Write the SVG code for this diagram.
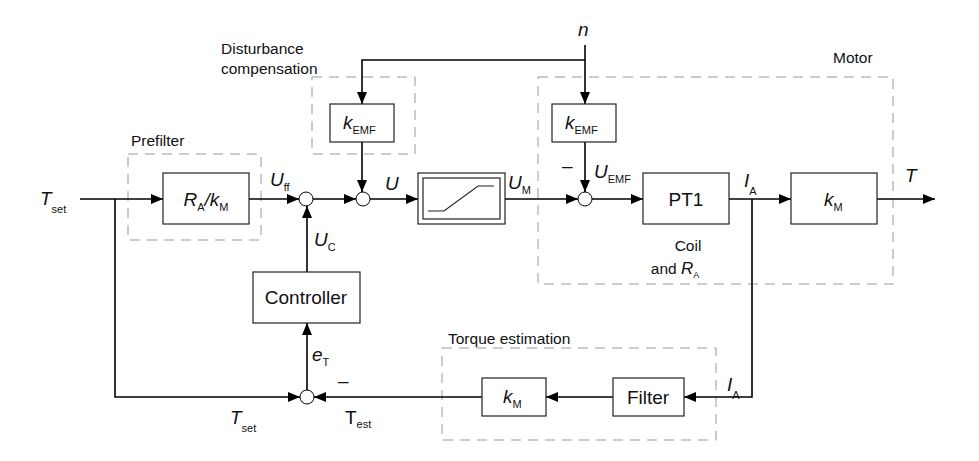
<svg xmlns="http://www.w3.org/2000/svg" width="979" height="461" viewBox="0 0 979 461">
<defs><marker id="a" markerWidth="12" markerHeight="10" refX="12" refY="5" orient="auto" markerUnits="userSpaceOnUse"><path d="M0,0L12,5L0,10z" fill="#000"/></marker></defs>
<style>
text{font-family:"Liberation Sans",Arial,sans-serif;fill:#111}
.b{fill:#fff;stroke:#222;stroke-width:1.2}
.d{fill:none;stroke:#999;stroke-width:1;stroke-dasharray:10,7}
.l{fill:none;stroke:#000;stroke-width:1.6}
.c{fill:#fff;stroke:#000;stroke-width:1}
.v{font-size:19px;font-style:italic}
.s{font-size:11px;font-style:normal}
.g{font-size:15.5px}
.t{font-size:19px}
</style>
<g id="groups">
<rect class="d" x="128" y="154" width="133" height="86"/>
<rect class="d" x="312" y="77" width="103" height="77"/>
<rect class="d" x="538" y="77" width="355" height="207"/>
<rect class="d" x="442" y="348" width="274" height="92"/>
<text class="g" x="131" y="146">Prefilter</text>
<text class="g" x="221" y="54">Disturbance</text>
<text class="g" x="221" y="74">compensation</text>
<text class="g" x="833" y="63">Motor</text>
<text class="g" x="448" y="344">Torque estimation</text>
<text class="g" x="688" y="251" text-anchor="middle">Coil</text>
<text class="g" x="675" y="274" text-anchor="middle">and <tspan font-style="italic" font-size="17">R</tspan><tspan font-size="9" dy="4">A</tspan></text>
</g>
<g id="connectors">
<path class="l" d="M80,199H163" marker-end="url(#a)"/>
<path class="l" d="M115,199V397H300" marker-end="url(#a)"/>
<path class="l" d="M249,199H299" marker-end="url(#a)"/>
<path class="l" d="M313,199H356" marker-end="url(#a)"/>
<path class="l" d="M370,199H418" marker-end="url(#a)"/>
<path class="l" d="M505,199H578" marker-end="url(#a)"/>
<path class="l" d="M592,199H643" marker-end="url(#a)"/>
<path class="l" d="M729,199H791" marker-end="url(#a)"/>
<path class="l" d="M877,199H935" marker-end="url(#a)"/>
<path class="l" d="M585,45V104" marker-end="url(#a)"/>
<path class="l" d="M585,60H362V104" marker-end="url(#a)"/>
<path class="l" d="M362,142V192" marker-end="url(#a)"/>
<path class="l" d="M585,142V192" marker-end="url(#a)"/>
<path class="l" d="M307,272V206" marker-end="url(#a)"/>
<path class="l" d="M307,390V323" marker-end="url(#a)"/>
<path class="l" d="M752,199V397H684" marker-end="url(#a)"/>
<path class="l" d="M613,397H546" marker-end="url(#a)"/>
<path class="l" d="M482,397H314" marker-end="url(#a)"/>
</g>
<g id="sum1"><circle class="c" cx="306" cy="199" r="7"/></g>
<g id="sum2"><circle class="c" cx="363" cy="199" r="7"/></g>
<g id="sum3"><circle class="c" cx="585" cy="199" r="7"/></g>
<g id="sum4"><circle class="c" cx="307" cy="397" r="7"/></g>
<g id="prefilter"><rect class="b" x="163" y="173" width="86" height="51"/><text class="v" x="206" y="206" text-anchor="middle">R<tspan class="s" dy="5">A</tspan><tspan dy="-5">/k</tspan><tspan class="s" dy="5">M</tspan></text></g>
<g id="kemf1"><rect class="b" x="330" y="104" width="64" height="38"/><text class="v" x="343" y="129">k<tspan class="s" dy="5">EMF</tspan></text></g>
<g id="sat"><rect class="b" x="418" y="173" width="87" height="51"/><rect class="b" x="423" y="178" width="77" height="41"/><path d="M428,211H444L478,186H494" fill="none" stroke="#222" stroke-width="1.2"/></g>
<g id="kemf2"><rect class="b" x="552" y="104" width="64" height="38"/><text class="v" x="565" y="129">k<tspan class="s" dy="5">EMF</tspan></text></g>
<g id="pt1"><rect class="b" x="643" y="173" width="86" height="51"/><text class="t" x="686" y="206" text-anchor="middle">PT1</text></g>
<g id="km1"><rect class="b" x="791" y="173" width="86" height="51"/><text class="v" x="824" y="206">k<tspan class="s" dy="5">M</tspan></text></g>
<g id="controller"><rect class="b" x="253" y="272" width="107" height="51"/><text class="t" x="306" y="304" text-anchor="middle">Controller</text></g>
<g id="km2"><rect class="b" x="482" y="378" width="64" height="38"/><text class="v" x="503" y="403">k<tspan class="s" dy="5">M</tspan></text></g>
<g id="filter"><rect class="b" x="613" y="378" width="71" height="38"/><text class="t" x="648" y="404" text-anchor="middle">Filter</text></g>
<g id="labels">
<text class="v" x="40" y="205">T<tspan class="s" dy="8">set</tspan></text>
<text class="v" x="270" y="186">U<tspan class="s" dy="5">ff</tspan></text>
<text class="v" x="385" y="190">U</text>
<text class="v" x="508" y="189">U<tspan class="s" dy="5">M</tspan></text>
<text class="v" x="594" y="178">U<tspan class="s" dy="5">EMF</tspan></text>
<text class="t" x="562" y="172">–</text>
<text class="v" x="578" y="36">n</text>
<text class="v" x="744" y="187">I<tspan class="s" dy="8">A</tspan></text>
<text class="v" x="905" y="182">T</text>
<text class="v" x="314" y="246">U<tspan class="s" dy="5">C</tspan></text>
<text class="v" x="312" y="361">e<tspan class="s" dy="5">T</tspan></text>
<text class="t" x="338" y="387">–</text>
<text class="t" x="345" y="424">T<tspan class="s" dy="4">est</tspan></text>
<text class="v" x="230" y="424">T<tspan class="s" dy="8">set</tspan></text>
<text class="v" x="727" y="391">I<tspan class="s" dy="8">A</tspan></text>
</g>
</svg>
